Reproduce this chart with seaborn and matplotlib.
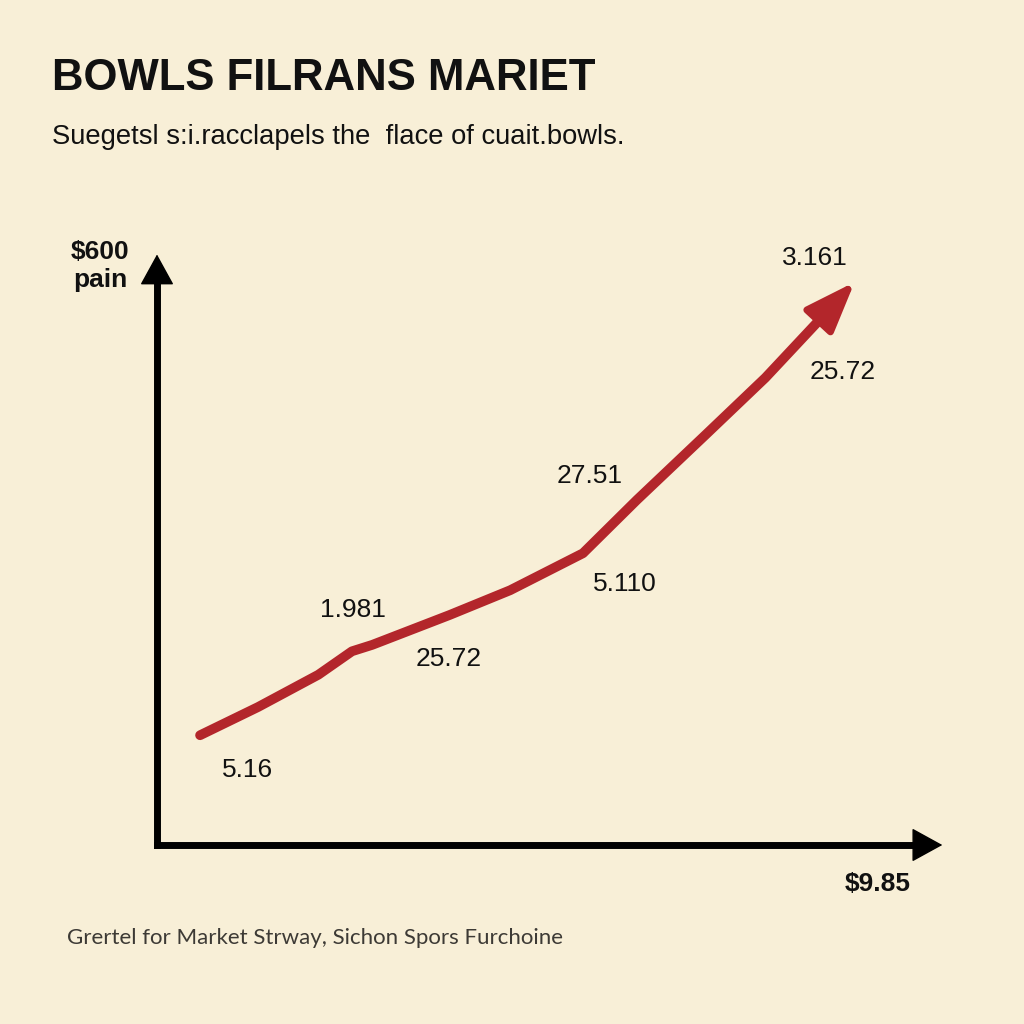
import matplotlib
matplotlib.use("Agg")
import matplotlib.pyplot as plt
import seaborn as sns
import pandas as pd
from matplotlib import font_manager

# ---- data ----
periods = [5.5, 12.9, 20.6, 24.9, 27.5, 37.4, 45.1, 54.4, 61.3, 70.0, 77.7, 85.0]
values = [18.7, 23.5, 29.0, 33.0, 34.1, 39.2, 43.4, 49.7, 58.8, 69.8, 79.6, 90.0]
arrow_tip = (89.1, 95.9)

label_texts = ["3.161", "25.72", "27.51", "5.110", "1.981", "25.72", "5.16"]
label_x = [84.0, 87.6, 55.2, 59.8, 25.0, 37.2, 11.6]
label_y = [100.0, 80.6, 62.9, 44.5, 40.1, 31.7, 12.8]

title = "BOWLS FILRANS MARIET"
subtitle = "Suegetsl s:i.racclapels the  flace of cuait.bowls."
y_label = "$600\npain"
x_label = "$9.85"
footer = "Grertel for Market Strway, Sichon Spors Furchoine"

BG = "#F8EFD7"
RED = "#B3262B"

avail = {f.name for f in font_manager.fontManager.ttflist}
narrow = "Liberation Sans Narrow" if "Liberation Sans Narrow" in avail else "Liberation Sans"

sns.set_theme(style="white")
plt.rcParams["font.family"] = [narrow, "DejaVu Sans"]

fig = plt.figure(figsize=(10.24, 10.24), dpi=100)
fig.patch.set_facecolor(BG)
ax = fig.add_axes([157 / 1024, 1 - 845 / 1024, (940 - 157) / 1024, (845 - 258) / 1024])
ax.set_facecolor(BG)
ax.set_xlim(0, 100)
ax.set_ylim(0, 100)
for s in ax.spines.values():
    s.set_visible(False)
ax.set_xticks([])
ax.set_yticks([])

df = pd.DataFrame({"period": periods, "value": values})
sns.lineplot(data=df, x="period", y="value", ax=ax, color=RED, linewidth=7,
             solid_capstyle="round", solid_joinstyle="round", sort=False)
ax.annotate("", xy=arrow_tip, xytext=(periods[-1], values[-1]),
            arrowprops=dict(arrowstyle="-|>,head_length=1.55,head_width=0.58",
                            mutation_scale=20, color=RED, lw=5,
                            shrinkA=0, shrinkB=0,
                            joinstyle="round", capstyle="round"))

# axes lines + arrowheads
ax.plot([0, 0], [0, 0.97], transform=ax.transAxes, color="black",
        lw=5, solid_capstyle="projecting", clip_on=False)
ax.plot([0, 0.98], [0, 0], transform=ax.transAxes, color="black",
        lw=5, solid_capstyle="projecting", clip_on=False)
ax.annotate("", xy=(0, 1.006), xytext=(0, 0.9), xycoords="axes fraction",
            arrowprops=dict(arrowstyle="-|>,head_length=1.0,head_width=0.55",
                            mutation_scale=20, color="black", lw=1,
                            shrinkA=0, shrinkB=0),
            annotation_clip=False)
ax.annotate("", xy=(1.003, 0), xytext=(0.9, 0), xycoords="axes fraction",
            arrowprops=dict(arrowstyle="-|>,head_length=1.0,head_width=0.55",
                            mutation_scale=20, color="black", lw=1,
                            shrinkA=0, shrinkB=0),
            annotation_clip=False)

for t, x, y in zip(label_texts, label_x, label_y):
    ax.text(x, y, t, ha="center", va="center", fontsize=19, color="#111111",
            clip_on=False)

fig.text(100 / 1024, 1 - 266 / 1024, y_label, ha="center", va="center",
         fontsize=19, fontweight="bold", color="#111111", linespacing=1.25)
fig.text(878 / 1024, 1 - 884 / 1024, x_label, ha="center", va="center",
         fontsize=19, fontweight="bold", color="#111111")

fig.text(52 / 1024, 1 - 78 / 1024, title, ha="left", va="center",
         fontsize=31.5, fontweight="bold", color="#111111")
fig.text(52 / 1024, 1 - 137 / 1024, subtitle, ha="left", va="center",
         fontsize=19.7, color="#111111")
fig.text(67 / 1024, 1 - 938 / 1024, footer, ha="left", va="center",
         fontsize=16, color="#3D3A35", family=["Lato", "DejaVu Sans"])

fig.savefig("out.png", dpi=100, facecolor=BG)
